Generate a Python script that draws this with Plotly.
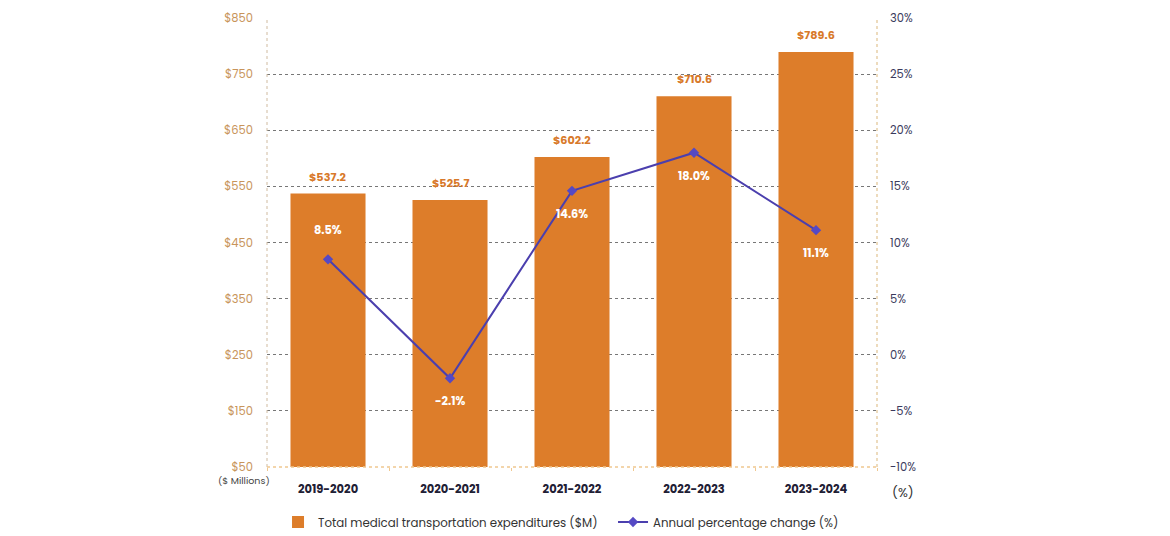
import plotly.graph_objects as go

categories = ["2019-2020", "2020-2021", "2021-2022", "2022-2023", "2023-2024"]
expenditures = [537.2, 525.7, 602.2, 710.6, 789.6]
pct_change = [8.5, -2.1, 14.6, 18.0, 11.1]
bar_labels = ["$537.2", "$525.7", "$602.2", "$710.6", "$789.6"]
pct_labels = ["8.5%", "-2.1%", "14.6%", "18.0%", "11.1%"]
pct_label_side = ["above", "below", "below", "below", "below"]
left_ticks = [50, 150, 250, 350, 450, 550, 650, 750, 850]
right_ticks = [-10, -5, 0, 5, 10, 15, 20, 25, 30]

ORANGE = "#dd7d2a"
PURPLE = "#4b3fae"
TAN = "#c8945a"
FONT = "Poppins, Inter, sans-serif"

fig = go.Figure()
fig.add_trace(go.Bar(
    x=categories, y=expenditures, name="Total medical transportation expenditures ($M)",
    marker=dict(color=ORANGE, line=dict(width=0)), width=0.615, yaxis="y",
))
fig.add_trace(go.Scatter(
    x=categories, y=pct_change, name="Annual percentage change (%)", yaxis="y2",
    mode="lines+markers", line=dict(color=PURPLE, width=2),
    marker=dict(symbol="diamond", size=8, color="#5549c4"),
))

annotations = []
for c, v, t in zip(categories, expenditures, bar_labels):
    annotations.append(dict(x=c, y=v, xref="x", yref="y", text=f"<b>{t}</b>", showarrow=False,
                            yshift=17, font=dict(family=FONT, size=11.2, color="#d8792a")))
for c, v, t, s in zip(categories, pct_change, pct_labels, pct_label_side):
    annotations.append(dict(x=c, y=v, xref="x", yref="y2", text=f"<b>{t}</b>", showarrow=False,
                            yshift=29 if s == "above" else -23,
                            font=dict(family=FONT, size=11.3, color="white")))
annotations.append(dict(x=-0.038, y=-0.029, xref="paper", yref="paper", text="($ Millions)",
                        showarrow=False, font=dict(family=FONT, size=9.5, color="#444"),
                        xanchor="center", yanchor="middle"))
annotations.append(dict(x=1.043, y=-0.056, xref="paper", yref="paper", text="(%)",
                        showarrow=False, font=dict(family=FONT, size=13, color="#333"),
                        xanchor="center", yanchor="middle"))

shapes = [
    dict(type="line", xref="paper", yref="paper", x0=0, x1=0, y0=0, y1=1,
         line=dict(color="#d0bba0", width=1, dash="dot")),
    dict(type="line", xref="paper", yref="paper", x0=1, x1=1, y0=0, y1=1,
         line=dict(color="#e8cfa8", width=1.5, dash="dot")),
    dict(type="line", xref="paper", yref="paper", x0=0, x1=1, y0=0, y1=0,
         line=dict(color="#f0c890", width=1.5, dash="dot")),
]

fig.update_layout(
    width=1170, height=536,
    margin=dict(l=259, r=301, t=10, b=77, autoexpand=False),
    paper_bgcolor="white", plot_bgcolor="white",
    font=dict(family=FONT, color="#333"),
    showlegend=True,
    legend=dict(orientation="h", x=-0.0016, xanchor="left", y=-0.1225, yanchor="middle",
                font=dict(family=FONT, size=11.8, color="#333"), traceorder="normal",
                itemwidth=30, entrywidth=290, entrywidthmode="pixels",
                borderwidth=12, bordercolor="rgba(255,255,255,0)", bgcolor="rgba(255,255,255,0)"),
    xaxis=dict(tickfont=dict(family=FONT, size=11.5, color="#1f2035", weight="bold"),
               showgrid=False, showline=False, zeroline=False,
               ticks="outside", tickson="boundaries", ticklen=3, tickcolor="#f0c890",
               ticklabelstandoff=13),
    yaxis=dict(range=[50, 850], tickvals=left_ticks, ticktext=[f"${v}" for v in left_ticks],
               tickfont=dict(family=FONT, size=11.5, color=TAN),
               showgrid=True, gridcolor="#777", griddash="dot", gridwidth=1,
               zeroline=False, showline=False, ticks="", ticklabelstandoff=13),
    yaxis2=dict(range=[-10, 30], tickvals=right_ticks, ticktext=[f"{v}%" for v in right_ticks],
                overlaying="y", side="right",
                tickfont=dict(family=FONT, size=11.5, color="#3a3a5c"),
                showgrid=False, zeroline=False, showline=False, ticks="", ticklabelstandoff=12),
    annotations=annotations, shapes=shapes,
    bargap=0.385,
)

fig.write_html("out.html")
